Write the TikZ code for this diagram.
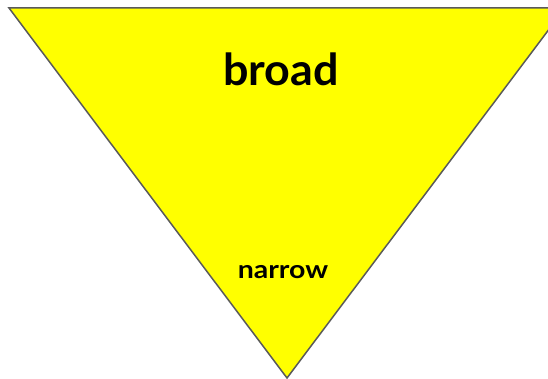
\documentclass[tikz,border=0pt]{standalone}
\usepackage{fontspec}
\setmainfont{Lato}
\definecolor{pureyellow}{RGB}{255,255,0}
\definecolor{edgegray}{RGB}{90,90,90}
\begin{document}
\begin{tikzpicture}[x=1pt,y=-1pt,
  tri/.style={fill=pureyellow,draw=edgegray,line width=1.5pt,line join=miter},
  big/.style={font=\fontsize{44}{50}\selectfont\bfseries,text=black,anchor=base,inner sep=0pt},
  small/.style={font=\fontsize{25}{30}\selectfont\bfseries,text=black,anchor=base,inner sep=0pt}]
\useasboundingbox (0,0) rectangle (548,379);
\begin{scope}
\clip (0,0) rectangle (548,379);
\draw[tri] (9,8) -- (565,8) -- (287,378) -- cycle;
\end{scope}
\node[big] (broad) at (281,85.5) {\scalebox{1.02}[1]{broad}};
\node[small] (narrow) at (283,278.5) {\scalebox{1.14}[1]{narrow}};
\end{tikzpicture}
\end{document}
